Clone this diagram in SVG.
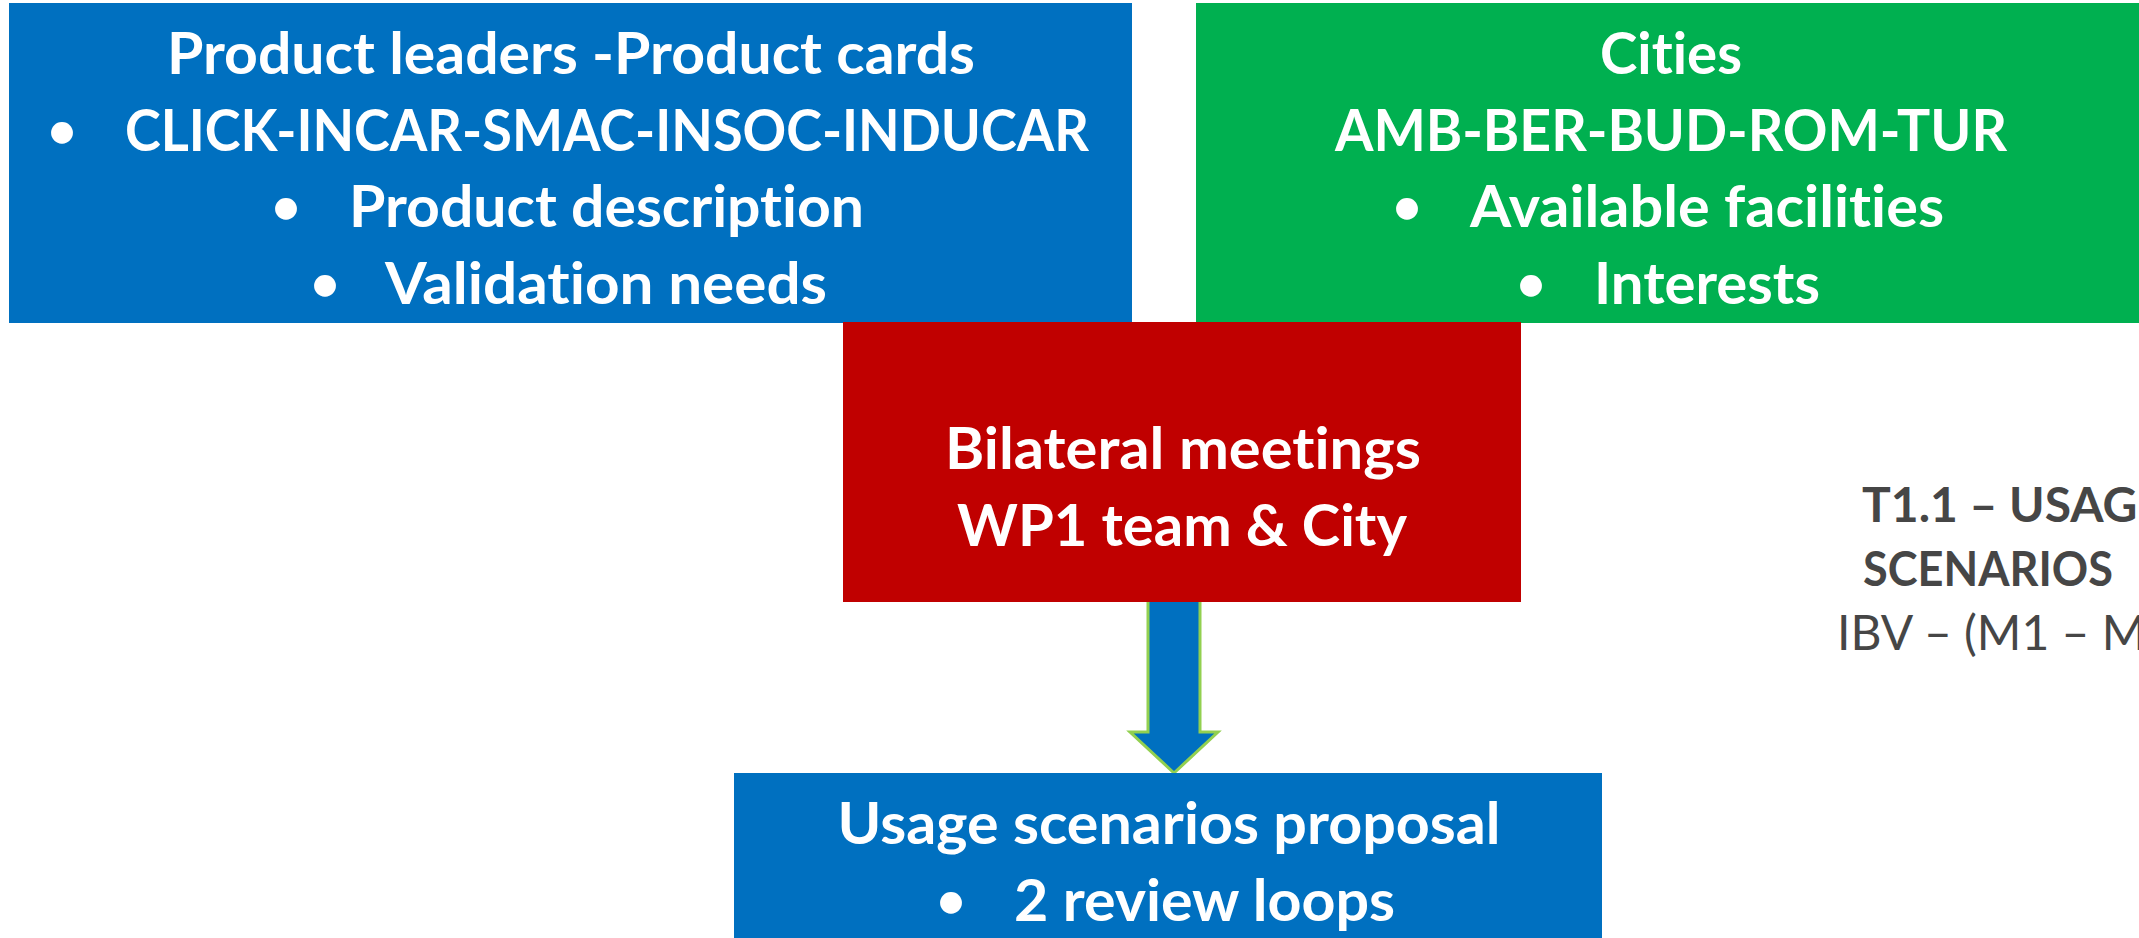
<svg xmlns="http://www.w3.org/2000/svg" width="2139" height="938" viewBox="0 0 2139 938">
  <style>
    .box-blue { fill: #0070C0; }
    .box-green { fill: #00B050; }
    .box-red { fill: #C00000; }
    .t { font-family: Lato, "Open Sans", "Liberation Sans", sans-serif; font-weight: 700; font-size: 57px; fill: #FFFFFF; font-variant-ligatures: none; font-feature-settings: "liga" 0, "clig" 0; }
    .b { font-size: 50px; }
    .c { text-anchor: middle; }
    .s { text-anchor: start; }
    .side { font-family: Lato, "Open Sans", "Liberation Sans", sans-serif; font-size: 48px; fill: #464646; font-variant-ligatures: none; }
    .bold { font-weight: 700; }
    .arrow { fill: #0070C0; stroke: #92D050; stroke-width: 3; stroke-linejoin: miter; }
  </style>
  <rect width="2139" height="938" fill="#FFFFFF"/>

  <g id="connectors">
    <polygon class="arrow" points="1148,600 1200,600 1200,732 1218,732 1174,773 1130,732 1148,732"/>
  </g>

  <g id="product-leaders">
    <rect class="box-blue" x="9" y="3" width="1123" height="320"/>
    <text class="t c" x="571" y="74" textLength="808" lengthAdjust="spacingAndGlyphs">Product leaders -Product cards</text>
    <text class="t b c" x="62" y="148">•</text>
    <text class="t s" x="125" y="151" textLength="964" lengthAdjust="spacingAndGlyphs">CLICK-INCAR-SMAC-INSOC-INDUCAR</text>
    <text class="t b c" x="286" y="224">•</text>
    <text class="t s" x="349" y="227" textLength="515" lengthAdjust="spacingAndGlyphs">Product description</text>
    <text class="t b c" x="325" y="301">•</text>
    <text class="t s" x="385" y="304" textLength="442" lengthAdjust="spacingAndGlyphs">Validation needs</text>
  </g>

  <g id="cities">
    <rect class="box-green" x="1196" y="3" width="960" height="320"/>
    <text class="t c" x="1671" y="74" textLength="142" lengthAdjust="spacingAndGlyphs">Cities</text>
    <text class="t c" x="1671" y="151" textLength="672" lengthAdjust="spacingAndGlyphs">AMB-BER-BUD-ROM-TUR</text>
    <text class="t b c" x="1407" y="224">•</text>
    <text class="t s" x="1470" y="227" textLength="474" lengthAdjust="spacingAndGlyphs">Available facilities</text>
    <text class="t b c" x="1531" y="301">•</text>
    <text class="t s" x="1594" y="304" textLength="226" lengthAdjust="spacingAndGlyphs">Interests</text>
  </g>

  <g id="bilateral-meetings">
    <rect class="box-red" x="843" y="322" width="678" height="280"/>
    <text class="t c" x="1183" y="469" textLength="476" lengthAdjust="spacingAndGlyphs">Bilateral meetings</text>
    <text class="t c" x="1182" y="546" textLength="450" lengthAdjust="spacingAndGlyphs">WP1 team &amp; City</text>
  </g>

  <g id="usage-scenarios-proposal">
    <rect class="box-blue" x="734" y="773" width="868" height="175"/>
    <text class="t c" x="1169" y="844" textLength="663" lengthAdjust="spacingAndGlyphs">Usage scenarios proposal</text>
    <text class="t b c" x="951" y="918">•</text>
    <text class="t s" x="1014" y="921" textLength="381" lengthAdjust="spacingAndGlyphs">2 review loops</text>
  </g>

  <g id="task-label">
    <text class="side bold" x="1862" y="522">T1.1 – USAGE</text>
    <text class="side bold" x="1863" y="586" textLength="250" lengthAdjust="spacingAndGlyphs">SCENARIOS</text>
    <text class="side" x="1837" y="650">IBV – (M1 – M</text>
  </g>
</svg>
